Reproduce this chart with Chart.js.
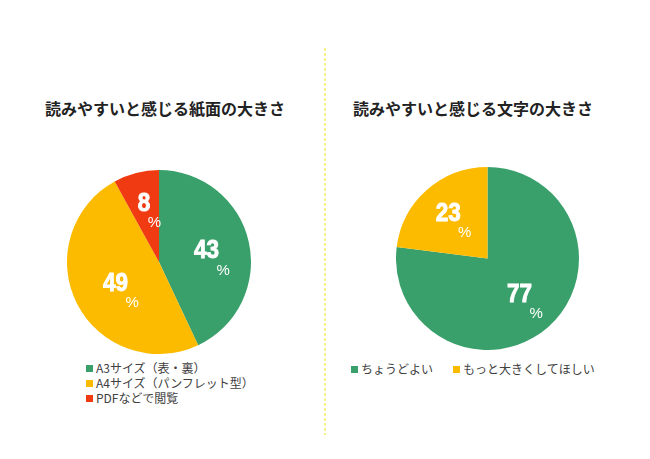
<!DOCTYPE html>
<html>
<head>
<meta charset="utf-8">
<script src="https://cdn.jsdelivr.net/npm/chart.js@4"></script>
<style>
  body { margin:0; width:650px; height:459px; background:#fff; position:relative; overflow:hidden;
         font-family:"Noto Sans CJK JP","Noto Sans",sans-serif; }
  .title { position:absolute; font-size:16px; font-weight:bold; color:#222; white-space:nowrap; line-height:20px; }
  .legend { position:absolute; font-size:12px; color:#404040; white-space:nowrap; line-height:15px; }
  .legend span.sw { display:inline-block; width:7px; height:7px; margin-right:3px; vertical-align:1px; }
  .legend .item { display:inline-block; }
  canvas { position:absolute; }
  #divider { position:absolute; left:324px; top:48px; width:2px; height:387px;
             background:repeating-linear-gradient(to bottom,#f6f38c 0 3px,transparent 3px 5px); }
</style>
</head>
<body>
<div class="title" style="left:45px;top:98px;">読みやすいと感じる紙面の大きさ</div>
<div class="title" style="left:353px;top:98px;">読みやすいと感じる文字の大きさ</div>
<div id="divider"></div>
<canvas id="paper" width="184" height="184" style="left:67px;top:170px;"></canvas>
<canvas id="font" width="183" height="183" style="left:396px;top:167px;"></canvas>
<div class="legend" id="legendPaper" style="left:86px;top:360px;"></div>
<div class="legend" id="legendFont" style="left:351px;top:361px;"></div>
<script>
// data
const paperLabels = ['A3サイズ（表・裏）', 'A4サイズ（パンフレット型）', 'PDFなどで閲覧'];
const paperValues = [43, 49, 8];
const fontLabels = ['ちょうどよい', 'もっと大きくしてほしい'];
const fontValues = [77, 23];

const green = '#3aa06b';
const yellow = '#fdbb00';
const red = '#f03b12';
const paperColors = [green, yellow, red];
const fontColors = [green, yellow];

// big white numbers with a small % below-right
const pctLabels = {
    id: 'pctLabels',
    afterDatasetsDraw(chart){
        const ctx = chart.ctx;
        const data = chart.data.datasets[0].data;
        const total = data.reduce((a, b) => a + b, 0);
        chart.getDatasetMeta(0).data.forEach((arc, i) => {
            const p = arc.getProps(['x','y','startAngle','endAngle','outerRadius'], true);
            const mid = (p.startAngle + p.endAngle) / 2;
            const f = data[i] / total < 0.3 ? 0.65 : 0.53;
            const x = p.x + Math.cos(mid) * p.outerRadius * f;
            const y = p.y + Math.sin(mid) * p.outerRadius * f;
            ctx.save();
            ctx.fillStyle = '#fff';
            ctx.strokeStyle = '#fff';
            ctx.lineWidth = 0.9;
            ctx.textAlign = 'center';
            ctx.textBaseline = 'middle';
            ctx.font = 'bold 25px "Liberation Sans", Arial, sans-serif';
            const txt = String(data[i]);
            const w = ctx.measureText(txt).width * 0.9;
            // slightly narrow, heavy digits
            ctx.save();
            ctx.translate(x, y);
            ctx.scale(0.9, 1);
            ctx.fillText(txt, 0, 0);
            ctx.strokeText(txt, 0, 0);
            ctx.restore();
            ctx.font = '15px "Liberation Sans", Arial, sans-serif';
            ctx.fillText('%', x + w / 2 + 4, y + 19);
            ctx.restore();
        });
    }
};

function makePie(id, labels, values, colors){
    return new Chart(document.getElementById(id), {
        type: 'pie',
        data: {
            labels: labels,
            datasets: [{ data: values, backgroundColor: colors, borderWidth: 0, hoverOffset: 0, offset: 0 }]
        },
        options: {
            responsive: false,
            animation: false,
            devicePixelRatio: 1,
            layout: { padding: 0 },
            plugins: { legend: { display: false }, tooltip: { enabled: false } },
            events: []
        },
        plugins: [pctLabels]
    });
}

makePie('paper', paperLabels, paperValues, paperColors);
makePie('font', fontLabels, fontValues, fontColors);

// html legends
function legend(el, labels, colors, vertical){
    labels.forEach((l, i) => {
        const d = document.createElement('div');
        d.className = 'item';
        if(!vertical && i > 0) d.style.marginLeft = '20px';
        if(vertical) d.style.display = 'block';
        d.innerHTML = '<span class="sw" style="background:' + colors[i] + '"></span>' + l;
        el.appendChild(d);
    });
}
legend(document.getElementById('legendPaper'), paperLabels, paperColors, true);
legend(document.getElementById('legendFont'), fontLabels, fontColors, false);
</script>
</body>
</html>
